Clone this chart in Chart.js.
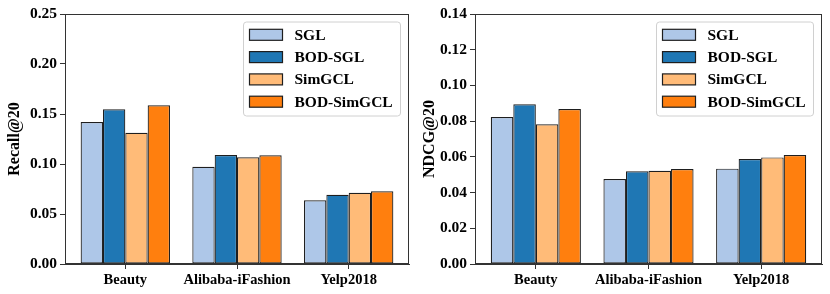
<!DOCTYPE html>
<html lang="en">
<head>
    <meta charset="UTF-8">
    <title>Recall@20 and NDCG@20</title>
    <script src="https://cdn.jsdelivr.net/npm/chart.js@4.4.1/dist/chart.umd.min.js"></script>
    <style>
        body {
            margin: 0;
            background: #ffffff;
        }
        .panel {
            position: absolute;
            top: 0;
            width: 415px;
            height: 294px;
        }
        #leftPanel { left: 0; }
        #rightPanel { left: 415px; }
    </style>
</head>
<body>
    <div class="panel" id="leftPanel"><canvas id="recallChart" width="415" height="294"></canvas></div>
    <div class="panel" id="rightPanel"><canvas id="ndcgChart" width="415" height="294"></canvas></div>

    <script>
        // Data
        const datasetsNames = ['Beauty', 'Alibaba-iFashion', 'Yelp2018'];
        const methods = ['SGL', 'BOD-SGL', 'SimGCL', 'BOD-SimGCL'];
        const methodColors = ['#aec7e8', '#1f77b4', '#ffbb78', '#ff7f0e'];

        const recallSGL = [0.142, 0.0973, 0.0637];
        const recallBODSGL = [0.1547, 0.1090, 0.0693];
        const recallSimGCL = [0.1313, 0.1067, 0.0713];
        const recallBODSimGCL = [0.1587, 0.1087, 0.0727];

        const ndcgSGL = [0.0823, 0.0476, 0.0534];
        const ndcgBODSGL = [0.0894, 0.0519, 0.0588];
        const ndcgSimGCL = [0.0782, 0.0522, 0.0597];
        const ndcgBODSimGCL = [0.0868, 0.0532, 0.0610];

        const recallTicks = [0, 0.05, 0.10, 0.15, 0.20, 0.25];
        const ndcgTicks = [0, 0.02, 0.04, 0.06, 0.08, 0.10, 0.12, 0.14];

        const FONT = "'Liberation Serif', 'Times New Roman', serif";
        const EDGE = '#1e1e1e';
        const SPINE = '#333333';

        // frame on all four sides + legend box inside upper right
        const framePlugin = {
            id: 'frameAndLegend',
            afterDraw(chart) {
                const ctx = chart.ctx;
                const a = chart.chartArea;
                ctx.save();
                ctx.strokeStyle = SPINE;
                ctx.lineWidth = 1;
                ctx.strokeRect(Math.round(a.left) + 0.5, Math.round(a.top) + 0.5,
                    Math.round(a.right - a.left) - 1, Math.round(a.bottom - a.top) - 1);

                // legend
                const w = 157, h = 94;
                const x0 = a.right - 8.5 - w;
                const y0 = a.top + 8;
                ctx.fillStyle = 'rgba(255,255,255,0.85)';
                ctx.strokeStyle = '#d0d0d0';
                ctx.beginPath();
                ctx.roundRect(x0, y0, w, h, 3);
                ctx.fill();
                ctx.stroke();

                ctx.font = 'bold 15.5px ' + FONT;
                ctx.textBaseline = 'middle';
                ctx.textAlign = 'left';
                chart.data.datasets.forEach((ds, i) => {
                    const cy = y0 + 12.8 + i * 22.3;
                    ctx.fillStyle = ds.backgroundColor;
                    ctx.fillRect(x0 + 6, cy - 5.5, 33, 11);
                    ctx.strokeStyle = EDGE;
                    ctx.lineWidth = 1.2;
                    ctx.strokeRect(x0 + 6, cy - 5.5, 33, 11);
                    ctx.fillStyle = '#000000';
                    ctx.fillText(ds.label, x0 + 51, cy + 1);
                });
                ctx.restore();
            }
        };

        function buildDatasets(series) {
            return series.map((values, i) => ({
                label: methods[i],
                data: values.map((v, j) => ({ x: j, y: v })),
                backgroundColor: methodColors[i],
                borderColor: EDGE,
                borderWidth: 1.2,
                borderSkipped: false
            }));
        }

        function createChart(canvasId, series, yTicks, yTitle, yAxisWidth, rightPad) {
            const ctx = document.getElementById(canvasId);
            return new Chart(ctx, {
                type: 'bar',
                data: { datasets: buildDatasets(series) },
                options: {
                    responsive: false,
                    animation: false,
                    devicePixelRatio: 1,
                    categoryPercentage: 0.8,
                    barPercentage: 1.0,
                    layout: { padding: { top: 14, right: rightPad, bottom: 0, left: 0 } },
                    plugins: {
                        legend: { display: false },
                        tooltip: { enabled: false }
                    },
                    scales: {
                        x: {
                            type: 'linear',
                            min: -0.54,
                            max: 2.54,
                            offset: false,
                            afterBuildTicks: axis => {
                                axis.ticks = datasetsNames.map((_, i) => ({ value: i }));
                            },
                            afterFit: axis => { axis.height = 30; },
                            border: { display: true, color: SPINE },
                            grid: {
                                offset: false,
                                drawOnChartArea: false,
                                drawTicks: true,
                                tickLength: 5,
                                color: SPINE
                            },
                            ticks: {
                                autoSkip: false,
                                maxRotation: 0,
                                padding: 3,
                                color: '#000000',
                                font: { family: FONT, size: 14.5, weight: 'bold' },
                                callback: value => datasetsNames[value]
                            }
                        },
                        y: {
                            min: yTicks[0],
                            max: yTicks[yTicks.length - 1],
                            afterBuildTicks: axis => {
                                axis.ticks = yTicks.map(v => ({ value: v }));
                            },
                            afterFit: axis => { axis.width = yAxisWidth; },
                            border: { display: true, color: SPINE },
                            grid: {
                                drawOnChartArea: false,
                                drawTicks: true,
                                tickLength: 5,
                                color: SPINE
                            },
                            ticks: {
                                padding: 3,
                                color: '#000000',
                                font: { family: FONT, size: 15.5, weight: 'bold' },
                                callback: value => value.toFixed(2)
                            },
                            title: {
                                display: true,
                                text: yTitle,
                                color: '#000000',
                                padding: { top: 5, bottom: 2 },
                                font: { family: FONT, size: 16, weight: 'bold' }
                            }
                        }
                    }
                },
                plugins: [framePlugin]
            });
        }

        createChart('recallChart',
            [recallSGL, recallBODSGL, recallSimGCL, recallBODSimGCL],
            recallTicks, 'Recall@20', 65, 6);
        createChart('ndcgChart',
            [ndcgSGL, ndcgBODSGL, ndcgSimGCL, ndcgBODSimGCL],
            ndcgTicks, 'NDCG@20', 60, 8);
    </script>
</body>
</html>
